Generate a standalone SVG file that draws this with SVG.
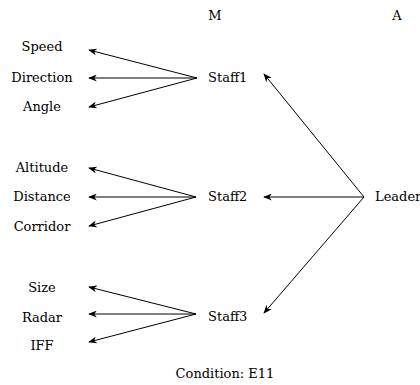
<svg xmlns="http://www.w3.org/2000/svg" width="420" height="385" viewBox="0 0 420 385">
<defs>
<style>
text{font-family:"DejaVu Serif","Liberation Serif",serif;font-size:13px;fill:#000}
.c line{stroke:#000;stroke-width:1;marker-end:url(#ah)}
</style>
<marker id="ah" viewBox="0 0 10 8" refX="9" refY="4" markerWidth="9" markerHeight="7" markerUnits="userSpaceOnUse" orient="auto">
<path d="M0,0 L10,4 L0,8 L3,4 Z" fill="#000"/>
</marker>
</defs>
<rect width="420" height="385" fill="#fff"/>
<g id="hdr-m"><text x="215" y="20" text-anchor="middle">M</text></g>
<g id="hdr-a"><text x="397" y="20" text-anchor="middle">A</text></g>
<g id="speed"><text x="42" y="51" text-anchor="middle">Speed</text></g>
<g id="direction"><text x="42" y="82" text-anchor="middle">Direction</text></g>
<g id="angle"><text x="42" y="111" text-anchor="middle">Angle</text></g>
<g id="altitude"><text x="42" y="172" text-anchor="middle">Altitude</text></g>
<g id="distance"><text x="42" y="201" text-anchor="middle">Distance</text></g>
<g id="corridor"><text x="42" y="231" text-anchor="middle">Corridor</text></g>
<g id="size"><text x="42" y="292" text-anchor="middle">Size</text></g>
<g id="radar"><text x="42" y="322" text-anchor="middle">Radar</text></g>
<g id="iff"><text x="42" y="350" text-anchor="middle">IFF</text></g>
<g id="staff1"><text x="208" y="82">Staff1</text></g>
<g id="staff2"><text x="208" y="201">Staff2</text></g>
<g id="staff3"><text x="208" y="321">Staff3</text></g>
<g id="leader"><text x="375" y="201">Leader</text></g>
<g id="caption"><text x="225" y="378" text-anchor="middle">Condition: E11</text></g>
<g class="c" id="connectors">
<line x1="197" y1="78" x2="89" y2="50"/>
<line x1="197" y1="78" x2="89" y2="78"/>
<line x1="197" y1="78" x2="89" y2="107"/>
<line x1="196" y1="197" x2="89" y2="168"/>
<line x1="196" y1="197" x2="89" y2="197"/>
<line x1="196" y1="197" x2="89" y2="226"/>
<line x1="196" y1="314" x2="89" y2="287"/>
<line x1="196" y1="314" x2="89" y2="314"/>
<line x1="196" y1="314" x2="89" y2="342"/>
<line x1="364" y1="197" x2="264" y2="74"/>
<line x1="364" y1="197" x2="264" y2="197"/>
<line x1="364" y1="197" x2="264" y2="313"/>
</g>
</svg>
